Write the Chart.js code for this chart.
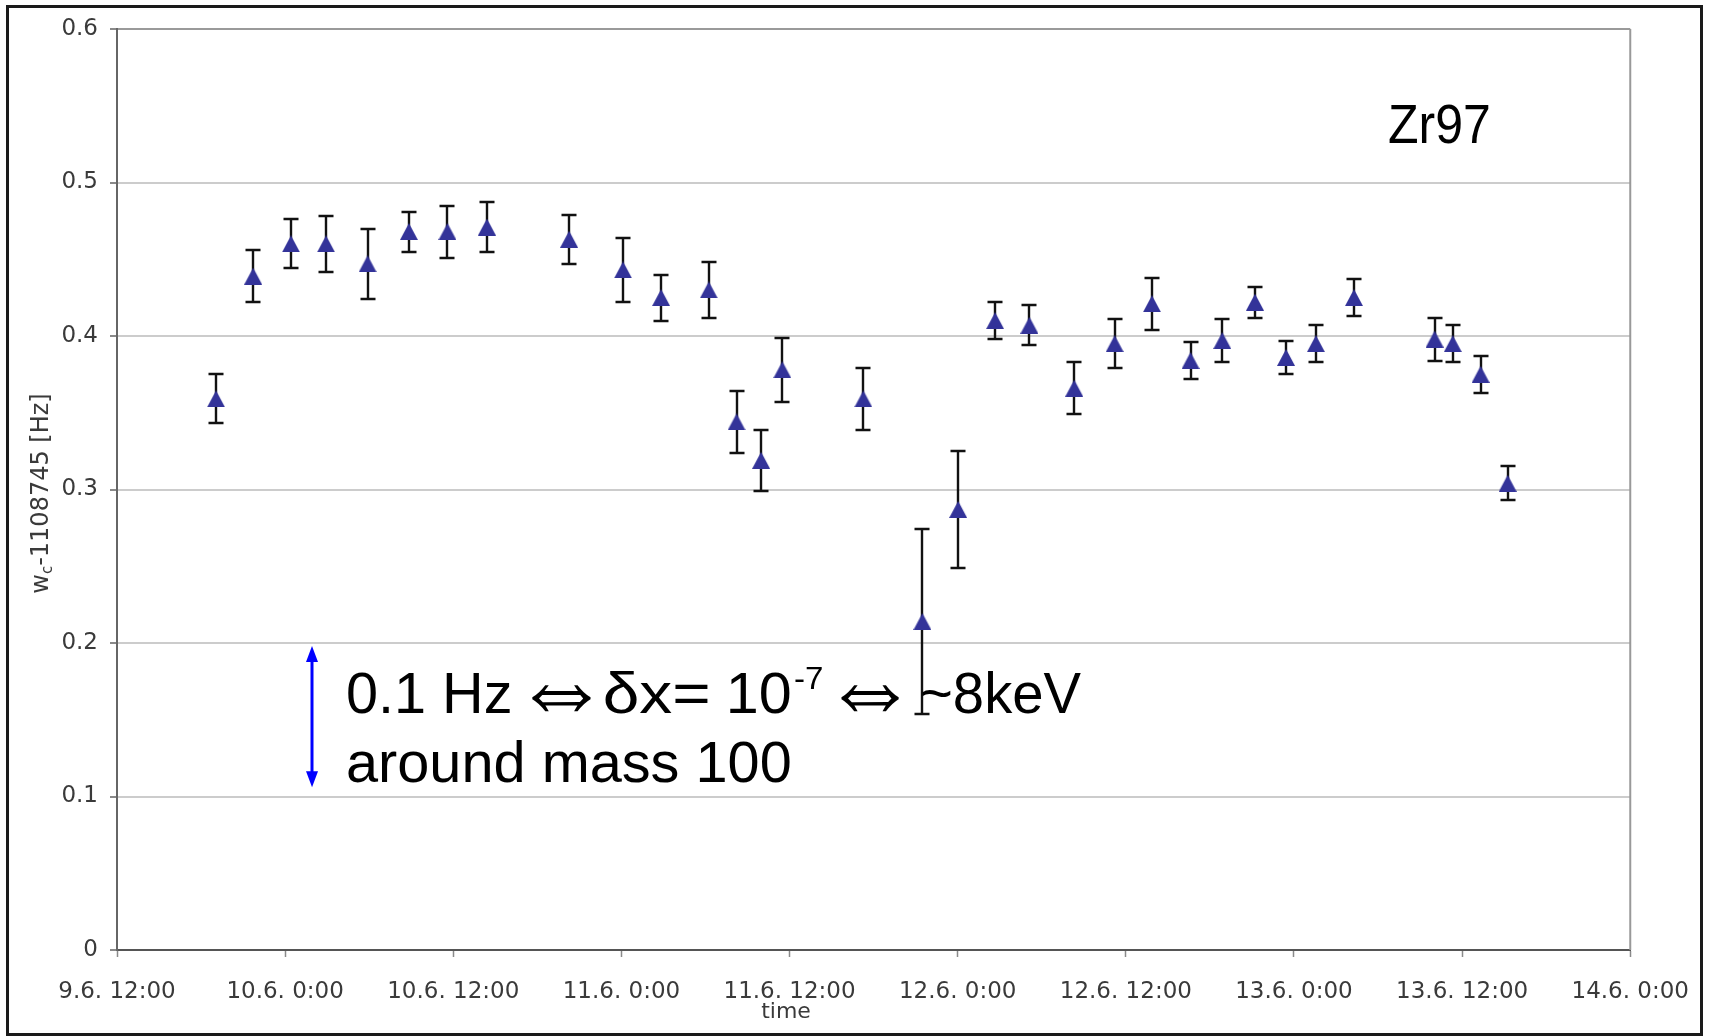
<!DOCTYPE html>
<html>
<head>
<meta charset="utf-8">
<title>Zr97 cyclotron frequency</title>
<script src="https://cdn.jsdelivr.net/npm/chart.js@4.4.0/dist/chart.umd.min.js"></script>
<style>
  html, body { margin: 0; padding: 0; background: #fff; }
  #wrap { width: 1710px; height: 1036px; }
</style>
</head>
<body>
<div id="wrap"><canvas id="chart" width="1710" height="1036"></canvas></div>
<script>
// --- DATA ---
// measurement times (day.month. h:mm)
const measTimes = [
  '9.6. 19:04', '9.6. 21:43', '10.6. 0:25', '10.6. 2:55', '10.6. 5:53', '10.6. 8:50',
  '10.6. 11:35', '10.6. 14:24', '10.6. 20:16', '11.6. 0:07', '11.6. 2:50', '11.6. 6:14',
  '11.6. 8:13', '11.6. 9:58', '11.6. 11:29', '11.6. 17:16', '11.6. 21:29', '12.6. 0:02',
  '12.6. 2:40', '12.6. 5:07', '12.6. 8:19', '12.6. 11:12', '12.6. 13:52', '12.6. 16:37',
  '12.6. 18:53', '12.6. 21:13', '12.6. 23:26', '13.6. 1:34', '13.6. 4:17', '13.6. 10:02',
  '13.6. 11:20', '13.6. 13:19', '13.6. 15:15'
];
// wc - 1108745 Hz
const wcValues = [
  0.359, 0.439, 0.460, 0.460, 0.447, 0.468,
  0.468, 0.471, 0.463, 0.443, 0.425, 0.430,
  0.344, 0.319, 0.378, 0.359, 0.214, 0.287,
  0.410, 0.407, 0.366, 0.395, 0.421, 0.384,
  0.397, 0.422, 0.386, 0.395, 0.425, 0.398,
  0.395, 0.375, 0.304
];
const wcErrors = [
  0.016, 0.017, 0.016, 0.018, 0.023, 0.013,
  0.017, 0.016, 0.016, 0.021, 0.015, 0.018,
  0.020, 0.020, 0.021, 0.020, 0.060, 0.038,
  0.012, 0.013, 0.017, 0.016, 0.017, 0.012,
  0.014, 0.010, 0.011, 0.012, 0.012, 0.014,
  0.012, 0.012, 0.011
];
const xTickLabels = [
  '9.6. 12:00', '10.6. 0:00', '10.6. 12:00', '11.6. 0:00', '11.6. 12:00',
  '12.6. 0:00', '12.6. 12:00', '13.6. 0:00', '13.6. 12:00', '14.6. 0:00'
];
const yTickLabels = ['0', '0.1', '0.2', '0.3', '0.4', '0.5', '0.6'];
const isotope = 'Zr97';

// --- UTILS ---
// hours since 9.6. 12:00
const toHours = (s) => {
  const m = s.match(/^(\d+)\.(\d+)\.\s+(\d+):(\d+)$/);
  return (Number(m[1]) - 9) * 24 + Number(m[3]) + Number(m[4]) / 60 - 12;
};

const points = measTimes.map((t, i) => ({ x: toHours(t), y: wcValues[i], err: wcErrors[i] }));

function triangleMarker(w, h, color) {
  const c = document.createElement('canvas');
  c.width = w; c.height = h;
  const g = c.getContext('2d');
  g.fillStyle = color;
  g.beginPath();
  g.moveTo(w / 2, 0);
  g.lineTo(w, h);
  g.lineTo(0, h);
  g.closePath();
  g.fill();
  return c;
}

// stretch a piece of text horizontally so its ink spans left..right
function fitText(ctx, text, font, left, right, baseline) {
  ctx.font = font;
  const m = ctx.measureText(text);
  const ink = m.actualBoundingBoxLeft + m.actualBoundingBoxRight;
  const sx = (right - left) / ink;
  ctx.save();
  ctx.translate(left + m.actualBoundingBoxLeft * sx, baseline);
  ctx.scale(sx, 1);
  ctx.fillText(text, 0, 0);
  ctx.restore();
}

// same, but fit the ink box in both directions
function fitBox(ctx, text, font, x0, x1, y0, y1) {
  ctx.font = font;
  const m = ctx.measureText(text);
  const sx = (x1 - x0) / (m.actualBoundingBoxLeft + m.actualBoundingBoxRight);
  const sy = (y1 - y0) / (m.actualBoundingBoxAscent + m.actualBoundingBoxDescent);
  ctx.save();
  ctx.translate(x0 + m.actualBoundingBoxLeft * sx, y0 + m.actualBoundingBoxAscent * sy);
  ctx.scale(sx, sy);
  ctx.fillText(text, 0, 0);
  ctx.restore();
}

function drawDoubleArrow(ctx, x, yTop, yBot) {
  ctx.save();
  ctx.strokeStyle = '#0000ff';
  ctx.fillStyle = '#0000ff';
  ctx.lineWidth = 3;
  ctx.beginPath();
  ctx.moveTo(x, yTop + 10);
  ctx.lineTo(x, yBot - 10);
  ctx.stroke();
  [[yTop, 1], [yBot, -1]].forEach(([tip, dir]) => {
    ctx.beginPath();
    ctx.moveTo(x, tip);
    ctx.lineTo(x - 6, tip + dir * 16);
    ctx.lineTo(x + 6, tip + dir * 16);
    ctx.closePath();
    ctx.fill();
  });
  ctx.restore();
}

// --- PLUGINS ---
const errorBars = {
  id: 'errorBars',
  beforeDatasetsDraw(chart) {
    const { ctx, scales: { x, y } } = chart;
    ctx.save();
    ctx.strokeStyle = '#111111';
    ctx.lineWidth = 2.4;
    chart.data.datasets[0].data.forEach(p => {
      const px = Math.round(x.getPixelForValue(p.x));
      const yTop = Math.round(y.getPixelForValue(p.y + p.err));
      const yBot = Math.round(y.getPixelForValue(p.y - p.err));
      ctx.beginPath();
      ctx.moveTo(px, yTop); ctx.lineTo(px, yBot);
      ctx.moveTo(px - 7.5, yTop); ctx.lineTo(px + 7.5, yTop);
      ctx.moveTo(px - 7.5, yBot); ctx.lineTo(px + 7.5, yBot);
      ctx.stroke();
    });
    ctx.restore();
  }
};

const decorations = {
  id: 'decorations',
  beforeDraw(chart) {
    const { ctx, width, height } = chart;
    ctx.save();
    ctx.fillStyle = '#ffffff';
    ctx.fillRect(0, 0, width, height);
    ctx.restore();
  },
  afterDraw(chart) {
    const { ctx, chartArea: a, scales: { y } } = chart;
    ctx.save();

    // right edge of the plot area
    ctx.strokeStyle = '#999999';
    ctx.lineWidth = 2;
    ctx.beginPath();
    ctx.moveTo(a.right, a.top);
    ctx.lineTo(a.right, a.bottom);
    ctx.stroke();

    // outer frame
    ctx.strokeStyle = '#1a1a1a';
    ctx.lineWidth = 3;
    ctx.strokeRect(7.5, 6.5, 1694, 1028);

    // y axis title with subscript
    const yMid = (a.top + a.bottom) / 2 + 4;
    ctx.fillStyle = '#3a3a3a';
    ctx.translate(48, yMid);
    ctx.rotate(-Math.PI / 2);
    ctx.font = "24px 'DejaVu Sans'";
    const wW = ctx.measureText('w').width;
    const rest = '-1108745 [Hz]';
    const wRest = ctx.measureText(rest).width;
    ctx.font = "15px 'DejaVu Sans'";
    const wC = ctx.measureText('c').width;
    let x0 = -(wW + wC + wRest) / 2;
    ctx.font = "24px 'DejaVu Sans'";
    ctx.fillText('w', x0, 0);
    ctx.font = "15px 'DejaVu Sans'";
    ctx.fillText('c', x0 + wW, 4);
    ctx.font = "24px 'DejaVu Sans'";
    ctx.fillText(rest, x0 + wW + wC, 0);
    ctx.setTransform(1, 0, 0, 1, 0, 0);

    // x axis title
    ctx.font = "22px 'DejaVu Sans'";
    ctx.textAlign = 'center';
    ctx.fillText('time', 786, 1018);
    ctx.textAlign = 'left';

    // isotope label
    ctx.fillStyle = '#000000';
    ctx.save();
    ctx.translate(1388, 143);
    ctx.scale(1, 1.12);
    ctx.font = "50px 'Liberation Sans'";
    ctx.fillText(isotope, 0, 0);
    ctx.restore();

    // scale annotation: 0.1 Hz bar
    drawDoubleArrow(ctx, 312, y.getPixelForValue(0.198), y.getPixelForValue(0.106));
    ctx.fillStyle = '#000000';
    const big = "57px 'Liberation Sans'";
    const arrowFont = "200 80px 'DejaVu Sans'";
    fitText(ctx, '0.1 Hz', big, 348, 510, 713);
    fitBox(ctx, '\u21D4', arrowFont, 532, 591, 685, 713);
    fitText(ctx, '\u03B4x=', big, 605, 708, 713);
    fitText(ctx, '10', big, 730, 790, 713);
    fitText(ctx, '-7', "31px 'Liberation Sans'", 795, 822, 689);
    fitBox(ctx, '\u21D4', arrowFont, 841, 899, 685, 713);
    fitText(ctx, '~8keV', big, 922, 1081, 713);
    fitText(ctx, 'around mass 100', big, 348, 790, 782);

    ctx.restore();
  }
};

// --- CHART ---
Chart.defaults.font.family = "'DejaVu Sans', sans-serif";

new Chart(document.getElementById('chart').getContext('2d'), {
  type: 'scatter',
  data: {
    datasets: [{
      data: points,
      pointStyle: triangleMarker(18, 17, '#333399'),
      pointRadius: 9,
      showLine: false
    }]
  },
  options: {
    responsive: false,
    animation: false,
    devicePixelRatio: 1,
    layout: { padding: { left: 10, right: 76, top: 29, bottom: 0 } },
    plugins: { legend: { display: false }, tooltip: { enabled: false } },
    scales: {
      x: {
        type: 'linear',
        min: 0,
        max: 108,
        afterFit: (s) => { s.height = 86; },
        border: { color: '#555555', width: 2 },
        grid: { drawOnChartArea: false, drawTicks: true, tickLength: 7, tickColor: '#8a8a8a', tickWidth: 1.5 },
        ticks: {
          stepSize: 12,
          autoSkip: false,
          maxRotation: 0,
          padding: 21,
          color: '#3a3a3a',
          font: { size: 23 },
          callback: (v) => xTickLabels[Math.round(v / 12)]
        }
      },
      y: {
        min: 0,
        max: 0.6,
        afterFit: (s) => { s.width = 107; },
        border: { color: '#666666', width: 2 },
        grid: {
          color: (c) => (c.tick && Math.abs(c.tick.value - 0.6) < 1e-9 ? '#9a9a9a' : '#cccccc'),
          lineWidth: 2,
          tickLength: 7,
          tickColor: '#8a8a8a'
        },
        ticks: {
          stepSize: 0.1,
          padding: 12,
          color: '#3a3a3a',
          font: { size: 23 },
          callback: (v, i) => yTickLabels[i]
        }
      }
    }
  },
  plugins: [errorBars, decorations]
});
</script>
</body>
</html>
